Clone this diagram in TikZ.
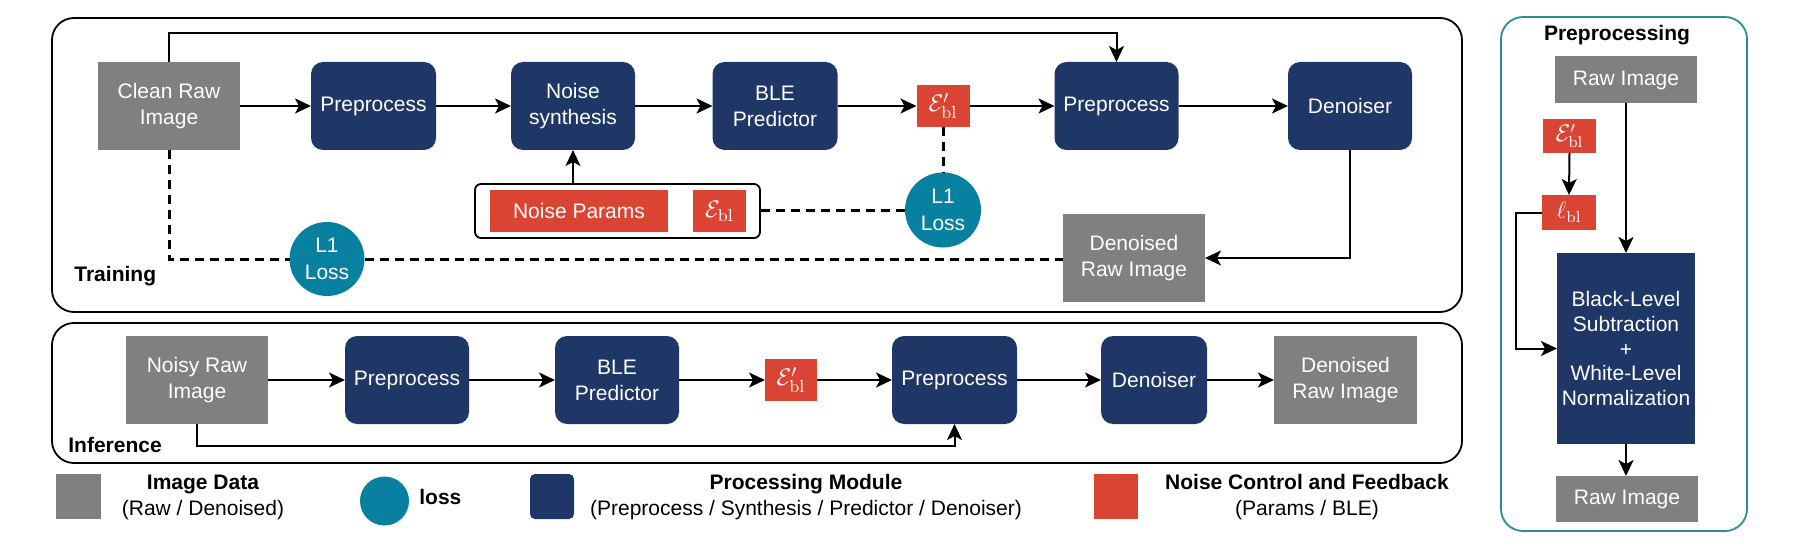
\documentclass[tikz,border=0pt]{standalone}
\usepackage{fontspec}
\newfontfamily\lsans{Liberation Sans}
\usetikzlibrary{arrows.meta,shapes.geometric,calc}
\definecolor{imggray}{HTML}{808080}
\definecolor{navy}{HTML}{1E3766}
\definecolor{nred}{HTML}{DB4433}
\definecolor{lteal}{HTML}{0880A0}
\definecolor{pteal}{HTML}{2A8D96}
\begin{document}
\begin{tikzpicture}[x=0.5pt,y=-0.5pt,
  base/.style={inner sep=0pt, outer sep=0pt, text=white, align=center,
    font=\lsans\fontsize{10.5}{13}\selectfont},
  imgbox/.style={base, fill=imggray},
  procbox/.style={base, fill=navy, rounded corners=6pt},
  redbox/.style={base, fill=nred, font=\fontsize{12.5}{14}\selectfont},
  lossnode/.style={base, ellipse, fill=lteal, font=\lsans\fontsize{10.5}{13.5}\selectfont},
  panel/.style={draw=black, line width=0.9pt, rounded corners=11pt},
  lbl/.style={inner sep=0pt, font=\lsans\bfseries\fontsize{10.5}{13}\selectfont},
  legtext/.style={inner sep=0pt, align=center, font=\lsans\fontsize{10.5}{13}\selectfont},
  arr/.style={line width=1pt, -{Stealth[length=8pt,width=7.5pt,inset=2pt]}},
  dsh/.style={line width=1.5pt, dash pattern=on 4.5pt off 3pt}
]
\useasboundingbox (0,0) rectangle (1800,551);

% panels
\draw[panel] (52,18) rectangle (1462,312);
\draw[panel] (52,323) rectangle (1462,463);
\draw[panel, draw=pteal] (1501,17) rectangle (1747,531);

% ---------- Training ----------
\node[imgbox, minimum width=71pt, minimum height=44pt] (clean) at (169,106) {Clean Raw\\Image};
\node[procbox, minimum width=62.5pt, minimum height=44pt] (pre1) at (373.5,106) {Preprocess};
\node[procbox, minimum width=62pt, minimum height=44pt] (synth) at (573,106) {Noise\\synthesis};
\node[procbox, minimum width=62.5pt, minimum height=44pt] (ble) at (775,106) {BLE\\Predictor};
\node[redbox, minimum width=26.5pt, minimum height=21pt] (ep) at (943,106) {$\mathcal{E}'_{\mathrm{bl}}$};
\node[procbox, minimum width=62pt, minimum height=44pt] (pre2) at (1116.5,106) {Preprocess};
\node[procbox, minimum width=62pt, minimum height=44pt] (den) at (1350,106) {Denoiser};
\node[draw=black, line width=0.9pt, fill=white, rounded corners=3pt, inner sep=0pt,
  minimum width=142.5pt, minimum height=27pt] (cont) at (617.5,211) {};
\node[redbox, font=\lsans\fontsize{10.5}{13}\selectfont, minimum width=89pt, minimum height=21pt] (np) at (579,211) {Noise Params};
\node[redbox, minimum width=26.5pt, minimum height=21pt] (eb) at (719.5,211) {$\mathcal{E}_{\mathrm{bl}}$};
\node[lossnode, minimum width=38pt, minimum height=37.5pt] (L1r) at (943,210) {L1\\Loss};
\node[lossnode, minimum width=37.5pt, minimum height=37pt] (L1l) at (327,259) {L1\\Loss};
\node[imgbox, minimum width=71pt, minimum height=44pt] (dn) at (1134,258) {Denoised\\Raw Image};
\node[lbl, anchor=west] (trl) at (74,276) {Training};

\coordinate (tt) at (0,33);
\draw[arr] (clean.north) -- (clean.north |- tt) -- (pre2.north |- tt) -- (pre2.north);
\draw[arr] (clean.east) -- (pre1.west);
\draw[arr] (pre1.east) -- (synth.west);
\draw[arr] (synth.east) -- (ble.west);
\draw[arr] (ble.east) -- (ep.west);
\draw[arr] (ep.east) -- (pre2.west);
\draw[arr] (pre2.east) -- (den.west);
\draw[arr] (synth.south |- cont.north) -- (synth.south);
\draw[arr] (den.south) |- (dn.east);
\draw[dsh] (clean.south) |- (L1l.west);
\draw[dsh] (L1l.east) -- (L1l.east -| dn.west);
\draw[dsh] (ep.south) -- (L1r.north);
\draw[dsh] (L1r.west) -- (L1r.west -| cont.east);

% ---------- Inference ----------
\node[imgbox, minimum width=71pt, minimum height=44pt] (noisy) at (197,380) {Noisy Raw\\Image};
\node[procbox, minimum width=62pt, minimum height=44pt] (ipre1) at (407,380) {Preprocess};
\node[procbox, minimum width=62pt, minimum height=44pt] (ible) at (617,380) {BLE\\Predictor};
\node[redbox, minimum width=26pt, minimum height=21pt] (iep) at (791,380) {$\mathcal{E}'_{\mathrm{bl}}$};
\node[procbox, minimum width=62.5pt, minimum height=44pt] (ipre2) at (954.5,380) {Preprocess};
\node[procbox, minimum width=53pt, minimum height=44pt] (iden) at (1154,380) {Denoiser};
\node[imgbox, minimum width=71.5pt, minimum height=44pt] (idn) at (1345.5,380) {Denoised\\Raw Image};
\node[lbl, anchor=west] (infl) at (68,445) {Inference};

\coordinate (ib) at (0,446);
\draw[arr] (noisy.east) -- (ipre1.west);
\draw[arr] (ipre1.east) -- (ible.west);
\draw[arr] (ible.east) -- (iep.west);
\draw[arr] (iep.east) -- (ipre2.west);
\draw[arr] (ipre2.east) -- (iden.west);
\draw[arr] (iden.east) -- (idn.west);
\draw[arr] (noisy.south) -- (noisy.south |- ib) -- (ipre2.south |- ib) -- (ipre2.south);

% ---------- Legend ----------
\node[imgbox, minimum width=22.5pt, minimum height=22.5pt] (lg1) at (78.5,496.5) {};
\node[legtext] (lt1) at (203,497) {\textbf{Image Data}\\(Raw / Denoised)};
\node[lossnode, minimum width=24.5pt, minimum height=24.5pt] (lg2) at (384.5,501) {};
\node[lbl, anchor=west] (lt2) at (419,497) {loss};
\node[procbox, rounded corners=2.5pt, minimum width=22pt, minimum height=22.5pt] (lg3) at (552,496.5) {};
\node[legtext] (lt3) at (806,497) {\textbf{Processing Module}\\(Preprocess / Synthesis / Predictor / Denoiser)};
\node[redbox, minimum width=22pt, minimum height=22.5pt] (lg4) at (1116,496.5) {};
\node[legtext] (lt4) at (1307,497) {\textbf{Noise Control and Feedback}\\(Params / BLE)};

% ---------- Preprocessing panel ----------
\node[lbl] (ptitle) at (1617,35) {Preprocessing};
\node[imgbox, minimum width=71pt, minimum height=23.5pt] (praw1) at (1626,80) {Raw Image};
\node[redbox, font=\fontsize{12}{14}\selectfont, minimum width=26.5pt, minimum height=17pt] (pep) at (1569.5,136) {$\mathcal{E}'_{\mathrm{bl}}$};
\node[redbox, font=\fontsize{12}{14}\selectfont, minimum width=27pt, minimum height=17.5pt] (plb) at (1569,212.5) {$\ell_{\mathrm{bl}}$};
\node[base, fill=navy, font=\lsans\fontsize{10.5}{12.3}\selectfont, minimum width=69pt, minimum height=95.5pt] (pbig) at (1626,348.5)
  {Black-Level\\Subtraction\\+\\White-Level\\Normalization};
\node[imgbox, minimum width=71pt, minimum height=23pt] (praw2) at (1627,499) {Raw Image};
\coordinate (pl) at (1516,0);
\draw[arr] (praw1.south) -- (praw1.south |- pbig.north);
\draw[arr] (pep.south) -- (plb.north);
\draw[arr] (plb.west) -- (plb.west -| pl) -- (pl |- pbig.west) -- (pbig.west);
\draw[arr] (pbig.south) -- (pbig.south |- praw2.north);
\end{tikzpicture}
\end{document}
